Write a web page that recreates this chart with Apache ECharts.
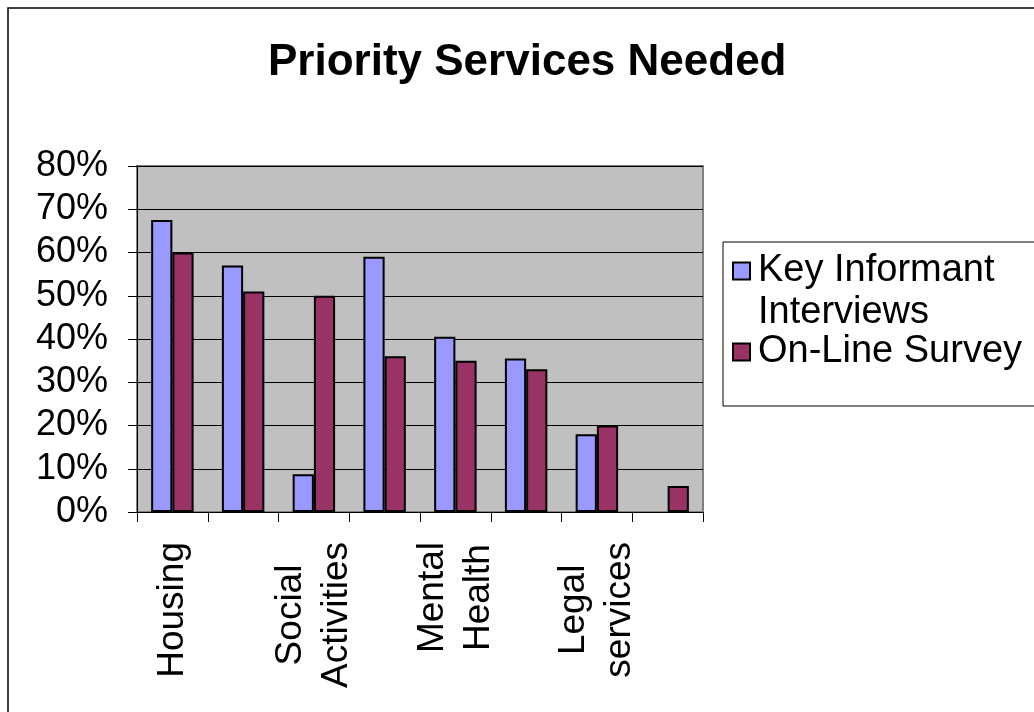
<!DOCTYPE html>
<html><head><meta charset="utf-8">
<script src="https://cdn.jsdelivr.net/npm/echarts@6/dist/echarts.min.js"></script>
<style>html,body{margin:0;padding:0;background:#fff}#c{width:1034px;height:712px}</style>
</head><body><div id="c"></div>
<script>
// ---- data ----
const categories = ['Housing', '', 'Social\nActivities', '', 'Mental\nHealth', '', 'Legal\nservices', ''];
const seriesNames = ['Key Informant Interviews', 'On-Line Survey'];
const keyInformant = [67.5, 57, 8.7, 59, 40.5, 35.5, 18, null];
const onlineSurvey = [60, 51, 50, 36, 35, 33, 20, 6];
const yMin = 0, yMax = 80, yStep = 10;

const FONT = '"Liberation Sans", Arial, sans-serif';
const chart = echarts.init(document.getElementById('c'), null, {renderer: 'canvas'});
const LLH = 42;   // legend line height
const legendRich = {a: {fontFamily: FONT, fontSize: 38, lineHeight: LLH, color: '#000'}};
chart.setOption({
  animation: false,
  backgroundColor: '#fff',
  textStyle: {fontFamily: FONT},
  graphic: [{
    type: 'rect', silent: true, z: -10,
    shape: {x: 8, y: 8, width: 1200, height: 900},
    style: {fill: 'none', stroke: '#000', lineWidth: 1.5}
  }],
  title: {
    text: 'Priority Services Needed',
    left: 263, top: 36,
    textStyle: {fontFamily: FONT, fontSize: 44, fontWeight: 'bold', color: '#000'}
  },
  legend: {
    orient: 'vertical', left: 723, top: 242,
    padding: [-34, 40, 33, 9],
    borderColor: '#000', borderWidth: 1,
    icon: 'rect', itemWidth: 17, itemHeight: 17, itemGap: -3,
    textStyle: {fontFamily: FONT, fontSize: 38, color: '#000', lineHeight: LLH, rich: legendRich},
    formatter: n => n === seriesNames[0]
      ? '{a|Key Informant}\n{a|Interviews}'
      : '{a|' + n + '}',
    data: [
      {name: seriesNames[0], textStyle: {padding: [LLH, 0, 0, 3], rich: legendRich}},
      {name: seriesNames[1], textStyle: {padding: [0, 0, 0, 3], rich: legendRich}}
    ]
  },
  grid: {
    left: 137, right: 331, top: 166, bottom: 200,
    show: true, backgroundColor: '#C0C0C0', borderColor: '#808080', borderWidth: 2
  },
  xAxis: {
    type: 'category', data: categories,
    axisLine: {lineStyle: {color: '#000', width: 1}},
    axisTick: {show: true, interval: 0, length: 10, lineStyle: {color: '#000'}},
    axisLabel: {
      interval: 0, rotate: 90, margin: 30, color: '#000',
      fontFamily: FONT, fontSize: 37,
      formatter: v => v ? v.split('\n').map(s => '{c|' + s + '}').join('\n') : '',
      rich: {c: {align: 'center', fontFamily: FONT, fontSize: 37, lineHeight: 46, color: '#000'}}
    }
  },
  yAxis: {
    type: 'value', min: yMin, max: yMax, interval: yStep,
    axisLine: {show: true, lineStyle: {color: '#000', width: 1}},
    axisTick: {show: true, length: 9, lineStyle: {color: '#000'}},
    axisLabel: {formatter: '{value}%', fontFamily: FONT, fontSize: 36, margin: 29, color: '#000'},
    splitLine: {lineStyle: {color: '#000', width: 1}}
  },
  series: [
    {name: seriesNames[0], type: 'bar', data: keyInformant, barGap: '0%', barCategoryGap: '40%',
     itemStyle: {color: '#9999FF', borderColor: '#000', borderWidth: 2}},
    {name: seriesNames[1], type: 'bar', data: onlineSurvey, barGap: '0%', barCategoryGap: '40%',
     itemStyle: {color: '#993366', borderColor: '#000', borderWidth: 2}}
  ]
});
</script></body></html>
